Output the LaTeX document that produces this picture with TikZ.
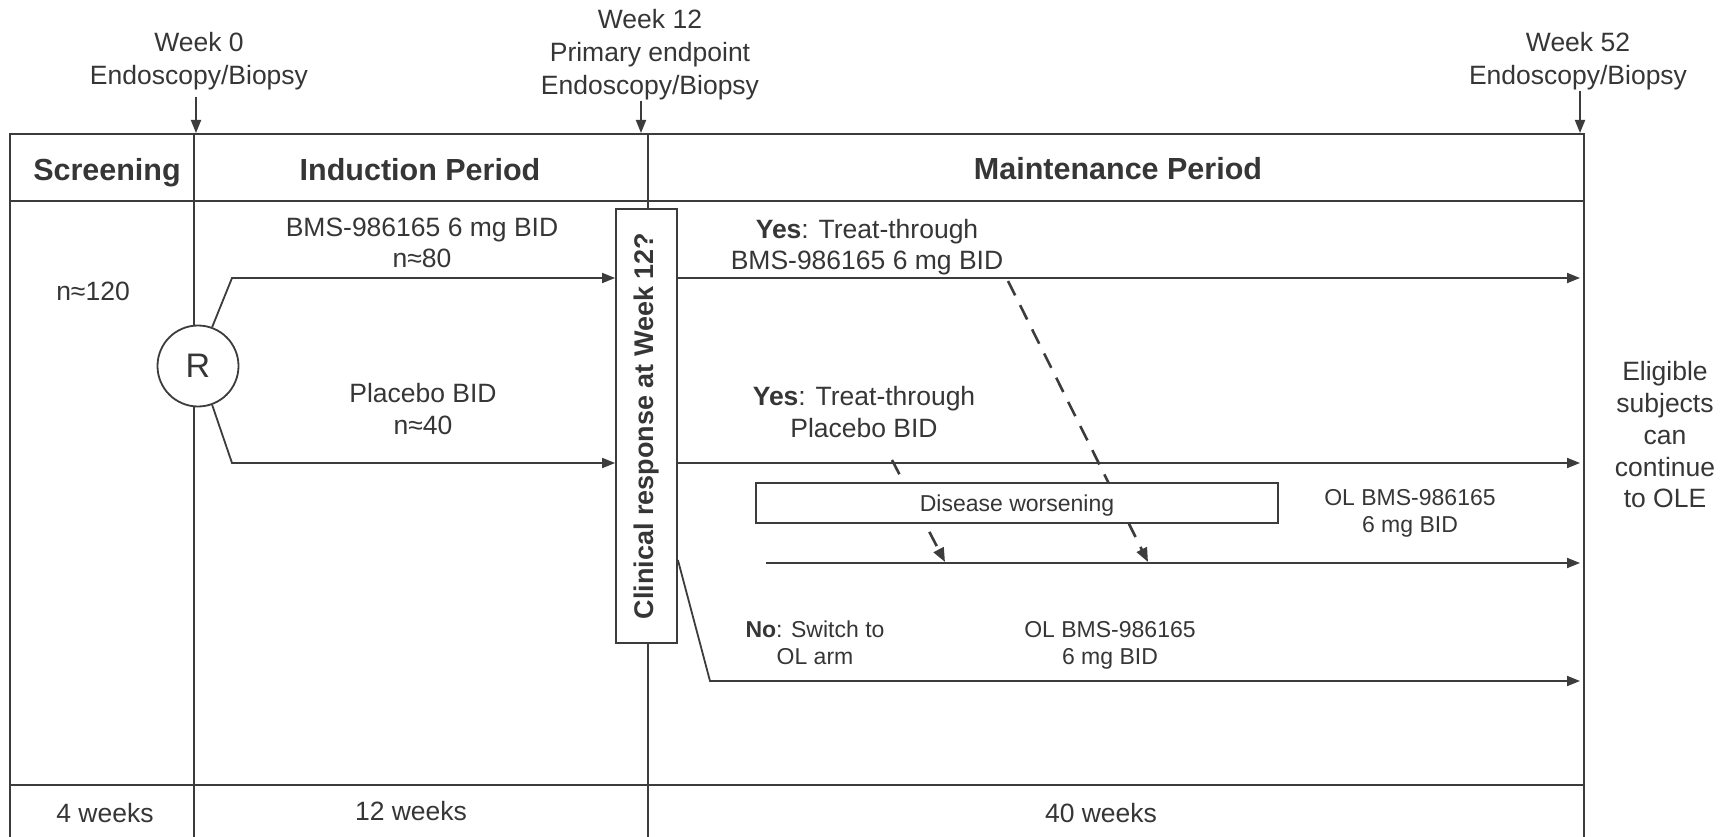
\documentclass[tikz,border=0pt]{standalone}
\usepackage{fontspec}
\setmainfont{Liberation Sans}
\usetikzlibrary{arrows.meta}
\definecolor{ln}{HTML}{3C3C3C}
\definecolor{tx}{HTML}{363636}
\begin{document}
\begin{tikzpicture}[x=1pt,y=-1pt,line width=1.8pt,color=ln,
  every node/.style={text=tx,inner sep=0pt},
  txt/.style={font=\fontsize{26.5}{31.5}\selectfont,align=center},
  wk/.style={font=\fontsize{26.5}{33}\selectfont,align=center},
  sml/.style={font=\fontsize{23}{27}\selectfont,align=center},
  hdr/.style={font=\fontsize{30.5}{36}\selectfont\bfseries,anchor=base},
  arr/.style={-{Triangle[length=13pt,width=10pt]}},
  dsh/.style={line width=2.6pt,dash pattern=on 16pt off 11pt,-{Triangle[length=14pt,width=11pt]}},
]
\fill[white] (0,0) rectangle (1730,837);
\useasboundingbox (0,0) rectangle (1730,837);

% table frame
\draw (10,837) -- (10,134) -- (1584,134) -- (1584,837);
\draw (194,134) -- (194,837);
\draw (648,134) -- (648,837);
\draw (10,201) -- (1584,201);
\draw (10,785) -- (1584,785);

% headers
\node[hdr] (scr) at (107,181) {Screening};
\node[hdr] (ind) at (420,181) {Induction Period};
\node[hdr] (mnt) at (1118,180) {Maintenance Period};

% time points
\node[wk] (w0) at (199,61) {Week 0\\Endoscopy/Biopsy};
\node[wk] (w12) at (650,55) {Week 12\\Primary endpoint\\Endoscopy/Biopsy};
\node[wk] (w52) at (1578,61) {Week 52\\Endoscopy/Biopsy};
\coordinate (w0e) at (196,133);
\coordinate (w12e) at (641,133);
\coordinate (w52e) at (1580,133);
\draw[arr,shorten <=6pt] (w0.south -| w0e) -- (w0e);
\draw[arr] (w12.south -| w12e) -- (w12e);
\draw[arr] (w52.south -| w52e) -- (w52e);

% induction
\node[txt,anchor=base] (n120) at (93,301) {n≈120};
\node[circle,draw,fill=white,minimum size=81pt,font=\fontsize{34}{40}\selectfont] (R) at (198,366) {R};
\node[txt] (bms) at (422,243) {BMS-986165 6 mg BID\\n≈80};
\node[txt] (pla) at (423,409) {Placebo BID\\n≈40};

\node[draw,fill=white,minimum width=61pt,minimum height=434pt] (crb) at (646.5,426) {};
\node[rotate=90,font=\fontsize{27}{31}\selectfont\bfseries] (crt) at (crb) {Clinical response at Week 12?};

\coordinate (i1) at (232,278);
\coordinate (i2) at (232,463);
\draw[arr] (R.70) -- (i1) -- (crb.west |- i1);
\draw[arr] (R.-70) -- (i2) -- (crb.west |- i2);

% maintenance
\coordinate (m1) at (1580,278);
\coordinate (m2) at (1580,463);
\coordinate (m3s) at (766,563);
\coordinate (m3) at (1580,563);
\coordinate (m4y) at (0,560);
\coordinate (m4k) at (710,681);
\coordinate (m4) at (1580,681);
\draw[arr] (crb.east |- m1) -- (m1);
\draw[arr] (crb.east |- m2) -- (m2);
\draw[arr] (m3s) -- (m3);
\draw[arr] (crb.east |- m4y) -- (m4k) -- (m4);

\coordinate (d1s) at (892,460);
\coordinate (d1e) at (945,562);
\coordinate (d2s) at (1008,281);
\coordinate (d2e) at (1148,562);
\draw[dsh] (d1s) -- (d1e);
\draw[dsh] (d2s) -- (d2e);

\node[draw,fill=white,minimum width=522pt,minimum height=40pt,sml,text depth=0pt] (dw) at (1017,503) {Disease worsening};

\node[txt] (yes1) at (867,247) {\textbf{Yes}: Treat-through\\BMS-986165 6 mg BID};
\node[txt] (yes2) at (864,412) {\textbf{Yes}: Treat-through\\Placebo BID};
\node[sml] (olr) at (1410,513) {OL BMS-986165\\6 mg BID};
\node[sml] (no) at (815,643) {\textbf{No}: Switch to\\OL arm};
\node[sml] (olb) at (1110,645) {OL BMS-986165\\6 mg BID};
\node[font=\fontsize{26.5}{31.75}\selectfont,align=center] (ole) at (1665,435) {Eligible\\subjects\\can\\continue\\to OLE};

% durations
\node[txt,anchor=base] (d4) at (105,822) {4 weeks};
\node[txt,anchor=base] (d12) at (411,820) {12 weeks};
\node[txt,anchor=base] (d40) at (1101,822) {40 weeks};
\end{tikzpicture}
\end{document}
